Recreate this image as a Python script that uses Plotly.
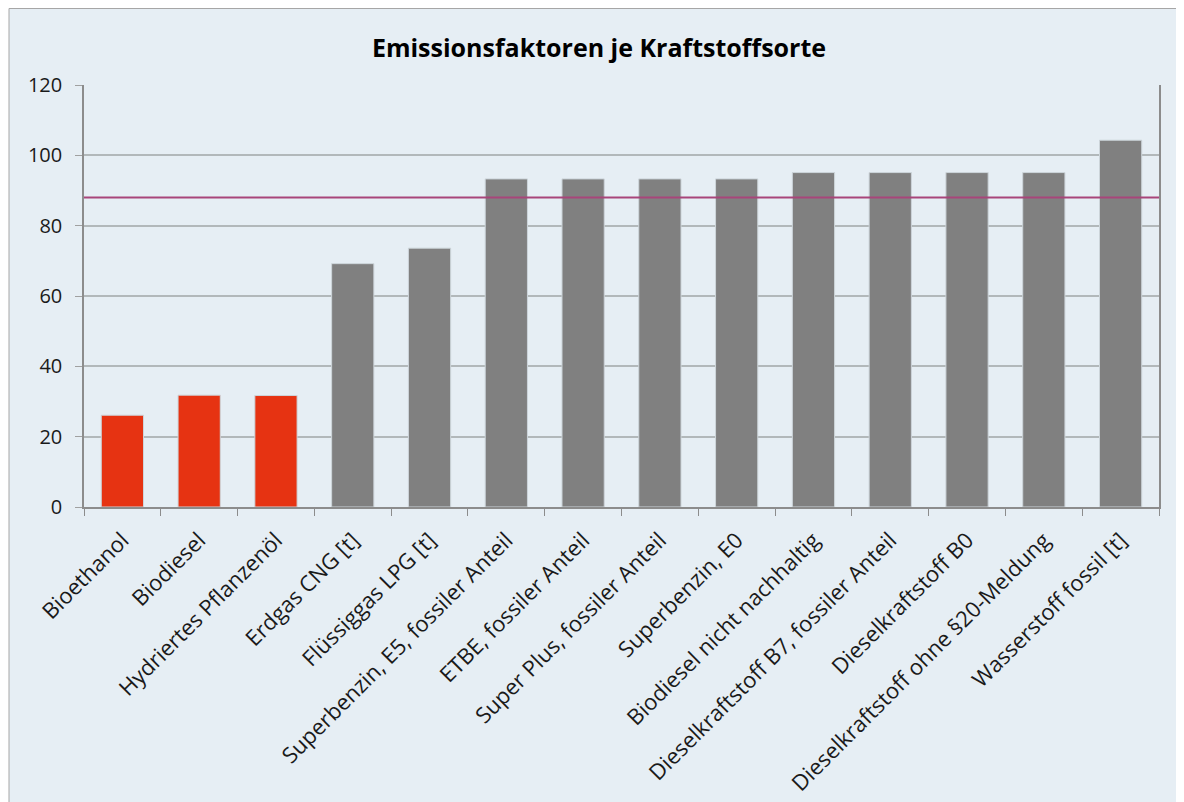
import plotly.graph_objects as go

categories = [
    "Bioethanol", "Biodiesel", "Hydriertes Pflanzenöl", "Erdgas CNG [t]",
    "Flüssiggas LPG [t]", "Superbenzin, E5, fossiler Anteil", "ETBE, fossiler Anteil",
    "Super Plus, fossiler Anteil", "Superbenzin, E0", "Biodiesel nicht nachhaltig",
    "Dieselkraftstoff B7, fossiler Anteil", "Dieselkraftstoff B0",
    "Dieselkraftstoff ohne §20-Meldung", "Wasserstoff fossil [t]",
]
values = [26.1, 31.8, 31.7, 69.2, 73.6, 93.3, 93.3, 93.3, 93.3, 95.1, 95.1, 95.1, 95.1, 104.3]
bar_colors = ["#E63312"] * 3 + ["#808080"] * 11
reference_value = 88.0
title = "Emissionsfaktoren je Kraftstoffsorte"

FONT = "Open Sans"
OFF = 8  # page body margin
W, H = 1184 - OFF, 802 - OFF
L, R, T, B = 84 - OFF, 25, 85 - OFF, 295
pw, ph = W - L - R, H - T - B

def px_to_paper_x(p):
    return (p - OFF - L) / pw

def px_to_paper_y(p):
    return (H - B - (p - OFF)) / ph

fig = go.Figure()
fig.add_trace(go.Bar(
    x=categories, y=values,
    marker=dict(color=bar_colors, line=dict(color="#CDD5DA", width=1)),
    width=0.55,
))

fig.add_shape(type="rect", xref="paper", yref="paper", layer="below",
              x0=px_to_paper_x(9), x1=px_to_paper_x(1184 + 20),
              y0=px_to_paper_y(802 + 20), y1=px_to_paper_y(8.5),
              fillcolor="#E6EEF4", line=dict(color="#A6A6A6", width=1))

fig.add_shape(type="line", xref="x domain", yref="y", x0=0, x1=1,
              y0=reference_value, y1=reference_value,
              line=dict(color="#A8457A", width=2))

fig.update_layout(
    width=W, height=H,
    margin=dict(l=L, r=R, t=T, b=B, autoexpand=False),
    paper_bgcolor="white", plot_bgcolor="rgba(0,0,0,0)",
    showlegend=False,
    font=dict(family=FONT, size=20, color="#1a1a1a"),
    title=dict(text="<b>" + title + "</b>", x=(599 - OFF) / W, xref="container",
               xanchor="center",
               y=1 - (48 - OFF) / H, yanchor="middle",
               font=dict(size=25, family=FONT, color="#000")),
)
fig.update_xaxes(
    showline=True, linecolor="#8C8C8C", linewidth=1.5,
    ticks="outside", ticklen=7, tickcolor="#8C8C8C", tickson="boundaries",
    tickangle=-45, showgrid=False, tickfont=dict(size=22),
    ticklabelstandoff=10, automargin=False,
)
fig.update_yaxes(
    range=[0, 120], dtick=20, tick0=0,
    showline=True, mirror=True, linecolor="#8C8C8C", linewidth=1.5,
    ticks="outside", ticklen=7, tickcolor="#A0A0A0",
    showgrid=True, gridcolor="#B2B8BA", gridwidth=1.5, zeroline=False,
    tickfont=dict(size=20), ticklabelstandoff=9, automargin=False,
)

fig.write_html("out.html")
